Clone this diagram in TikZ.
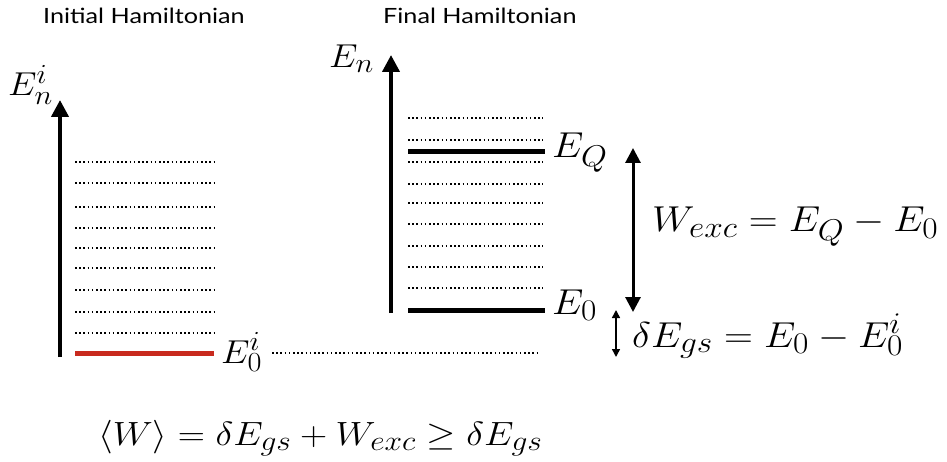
\documentclass[tikz,border=0pt]{standalone}
\usepackage{fontspec}
\usepackage{graphicx}
\newfontfamily\titlefont{Lato}
\usetikzlibrary{arrows.meta}
\definecolor{groundred}{RGB}{200,42,30}
% #1 horizontal factor, #2 vertical factor, #3 formula
\newcommand{\mth}[3]{\scalebox{#1}[#2]{$#3$}}
\newcommand{\rmth}[1]{\mth{1.608}{1.447}{#1}}
\newcommand{\lmth}[1]{\mth{1.46}{1.33}{#1}}
\newcommand{\bmth}[1]{\mth{1.515}{1.35}{#1}}
\tikzset{
  axis/.style={line width=4pt,-{Triangle[width=17pt,length=17pt]}},
  level/.style={line width=1.6pt,dash pattern=on 1.6pt off 2.6pt},
  thicklevel/.style={line width=5pt},
  title/.style={anchor=base west,inner sep=0pt,font=\titlefont\fontsize{21}{25}\selectfont},
  mathlbl/.style={anchor=base west,inner sep=0pt,font=\Huge},
  bigdouble/.style={line width=3pt,{Triangle[width=15pt,length=15pt]}-{Triangle[width=15pt,length=15pt]}},
  smalldouble/.style={line width=1.5pt,{Triangle[width=8pt,length=8pt]}-{Triangle[width=8pt,length=8pt]}}
}
\begin{document}
\begin{tikzpicture}[x=1pt,y=-1pt]
\useasboundingbox (0,0) rectangle (947,462);
% titles
\node[title] (t1) at (43,24) {\scalebox{1.2}[1]{Initial Hamiltonian}};
\node[title] (t2) at (383,24) {\scalebox{1.2}[1]{Final Hamiltonian}};
% left axis
\coordinate (la0) at (60,357);
\coordinate (la1) at (60,100);
\draw[axis] (la0) -- (la1);
\node[mathlbl] (Eni) at (8,96) {\lmth{E_n^i}};
% left levels
\foreach \y [count=\k] in {162,183,207,228,248,268,290,312,333}{
  \coordinate (ls\k) at (75,\y);
  \coordinate (le\k) at (214,\y);
  \draw[level] (ls\k) -- (le\k);
}
\coordinate (lg0) at (75,353);
\coordinate (lg1) at (214,353);
\draw[thicklevel,groundred] (lg0) -- (lg1);
\node[mathlbl] (E0i) at (221,363) {\lmth{E_0^i}};
\coordinate (refend) at (540,353);
\draw[level] (272,353) -- (refend);
% right axis
\coordinate (ra0) at (391,313);
\coordinate (ra1) at (391,55);
\draw[axis] (ra0) -- (ra1);
\node[mathlbl] (En) at (329,68) {\lmth{E_n}};
% right levels
\foreach \y [count=\k] in {118,140,162,184,203,224,246,267,288}{
  \coordinate (rs\k) at (408,\y);
  \coordinate (re\k) at (543,\y);
  \draw[level] (rs\k) -- (re\k);
}
\coordinate (q0) at (408,152);
\coordinate (q1) at (545,152);
\draw[thicklevel] (q0) -- (q1);
\coordinate (g0) at (408,310);
\coordinate (g1) at (545,310);
\draw[thicklevel] (g0) -- (g1);
\node[mathlbl] (EQ) at (552,158) {\rmth{E_Q}};
\node[mathlbl] (E0) at (552,314) {\rmth{E_0}};
% difference arrows
\coordinate (w0) at (633,148);
\coordinate (w1) at (633,312);
\draw[bigdouble] (w0) -- (w1);
\coordinate (d0) at (616,310);
\coordinate (d1) at (616,357);
\draw[smalldouble] (d0) -- (d1);
\node[mathlbl] (Wexc) at (652,232) {\rmth{W_{exc}=E_Q-E_0}};
\node[mathlbl] (dEgs) at (632,347) {\rmth{\delta E_{gs}=E_0-E_0^i}};
% bottom formula
\node[mathlbl] (Wavg) at (98,445) {\bmth{\langle W\rangle=\delta E_{gs}+W_{exc}\geq\delta E_{gs}}};
\end{tikzpicture}
\end{document}
